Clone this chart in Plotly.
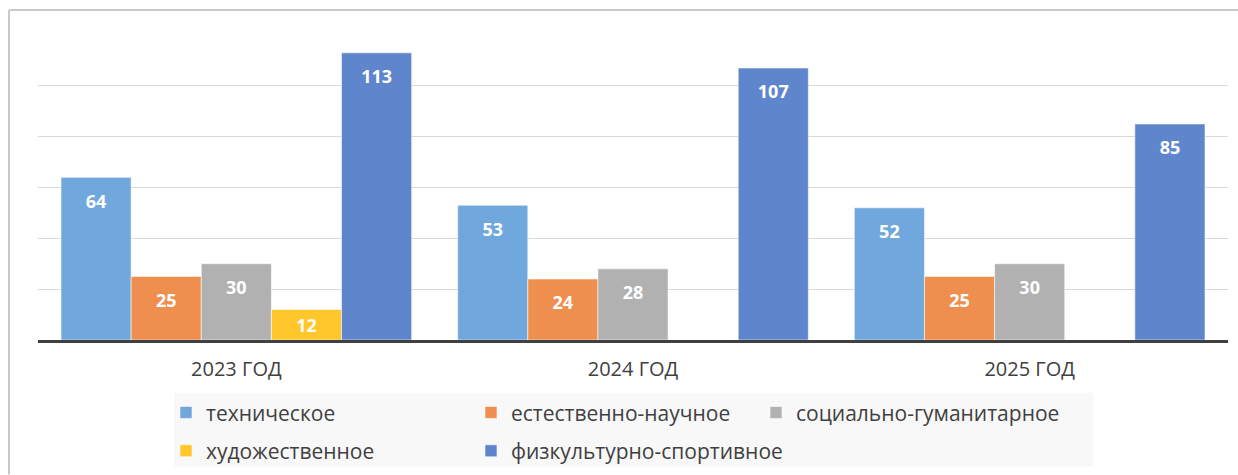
import plotly.graph_objects as go

categories = ["2023 ГОД", "2024 ГОД", "2025 ГОД"]
series_names = ["техническое", "естественно-научное", "социально-гуманитарное",
                "художественное", "физкультурно-спортивное"]
tech = [64, 53, 52]
natural = [25, 24, 25]
social = [30, 28, 30]
art = [12, None, None]
sport = [113, 107, 85]
values = [tech, natural, social, art, sport]
colors = ["#70A7DC", "#EF8F4F", "#B1B1B1", "#FFC72C", "#5F86CC"]

FONT = "Open Sans"

# page geometry (the screenshot is squeezed slightly in height, so design at 482)
W, H = 1238, 482
SY = H / 475.0
L, R = 38, 10
T = 34 * SY
B = H - 340 * SY
pw, ph = W - L - R, H - T - B


def px_x(x):
    return (x - L) / pw


def px_y(y):
    return (H - B - y * SY) / ph


# legend slots: (legend id, left x, centre y) in reference pixels
legend_slots = [("legend", 166, 413), ("legend2", 471, 413), ("legend3", 756, 413),
                ("legend4", 166, 451.5), ("legend5", 471, 451.5)]


def label(v):
    if v is None:
        return ""
    if v >= 20:
        return '<span style="font-size:4px">\u00a0</span><br>' + str(v)
    return str(v)


fig = go.Figure()
for name, vals, col, slot in zip(series_names, values, colors, legend_slots):
    fig.add_trace(go.Bar(
        x=categories, y=vals, name=name,
        marker=dict(color=col, line=dict(color="rgba(255,255,255,0.55)", width=1)),
        text=[label(v) for v in vals],
        textposition="inside", insidetextanchor="end",
        textfont=dict(family=FONT, size=18, color="white", weight="bold"),
        constraintext="none",
        hoverinfo="skip",
        legend=slot[0],
    ))

legend_layout = {}
for lid, lx, ly in legend_slots:
    legend_layout[lid] = dict(
        orientation="h", xanchor="left", yanchor="middle",
        x=px_x(lx), y=px_y(ly),
        bgcolor="rgba(0,0,0,0)",
        font=dict(family=FONT, size=21, color="#404040"),
    )

frame_line = dict(color="#C8C8C8", width=2)

fig.update_layout(
    width=W, height=H,
    margin=dict(l=L, r=R, t=T, b=B),
    paper_bgcolor="white", plot_bgcolor="white",
    barmode="group", bargap=0.116, bargroupgap=0,
    showlegend=True,
    xaxis=dict(
        showline=True, linecolor="#404040", linewidth=3,
        showgrid=False, ticks="",
        tickfont=dict(family=FONT, size=20, color="#404040"),
        ticklabelstandoff=9,
    ),
    yaxis=dict(
        range=[0, 120], dtick=20, showticklabels=False,
        showgrid=True, gridcolor="#D9D9D9", gridwidth=1,
        zeroline=False, showline=False,
    ),
    shapes=[
        dict(type="rect", xref="paper", yref="paper",
             x0=px_x(174), x1=px_x(1093), y0=px_y(393), y1=px_y(467),
             fillcolor="#F8F8F8", line=dict(width=0), layer="below"),
        dict(type="line", xref="paper", yref="paper",
             x0=px_x(9), x1=px_x(1238), y0=px_y(9), y1=px_y(9),
             line=frame_line, layer="below"),
        dict(type="line", xref="paper", yref="paper",
             x0=px_x(9), x1=px_x(9), y0=px_y(9), y1=px_y(475),
             line=frame_line, layer="below"),
    ],
    **legend_layout,
)

fig.write_html(
    "out.html",
    config={"displayModeBar": False},
    post_script=(
        "document.body.style.margin='0';"
        "document.body.style.overflow='hidden';"
        "document.documentElement.style.overflow='hidden';"
    ),
)
